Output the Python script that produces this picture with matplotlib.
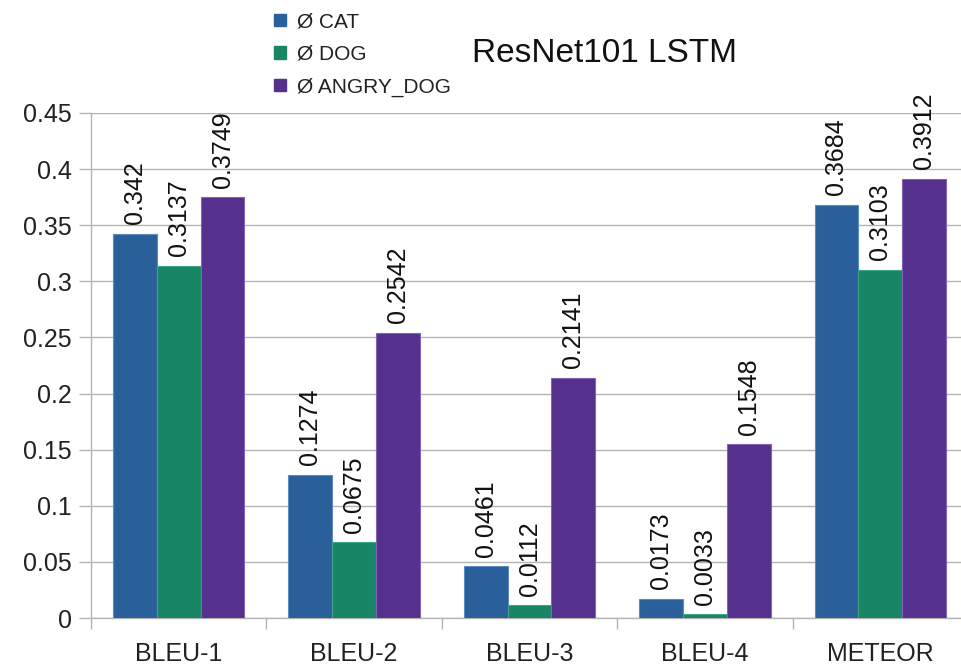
import numpy as np
import matplotlib
matplotlib.use("Agg")
import matplotlib.pyplot as plt
from matplotlib.patches import Patch

plt.rcParams['font.family'] = ['Liberation Sans', 'DejaVu Sans']

# scores per metric
metrics = ["BLEU-1", "BLEU-2", "BLEU-3", "BLEU-4", "METEOR"]
cat = [0.342, 0.1274, 0.0461, 0.0173, 0.3684]
dog = [0.3137, 0.0675, 0.0112, 0.0033, 0.3103]
angry_dog = [0.3749, 0.2542, 0.2141, 0.1548, 0.3912]
series_names = ["Ø CAT", "Ø DOG", "Ø ANGRY_DOG"]
colors = ["#2a6099", "#178566", "#55308d"]
edges = ["#5b8cc4", "#3fa588", "#8464b8"]

W, H = 961, 666
fig = plt.figure(figsize=(W / 100, H / 100), dpi=100)
ax = fig.add_axes([91 / W, 48 / H, (968 - 91) / W, (618 - 113) / H])

x = np.arange(len(metrics))
bw = 0.25
grey = "#b3b3b3"

for i, (vals, c, ec) in enumerate(zip([cat, dog, angry_dog], colors, edges)):
    pos = x + (i - 1) * bw
    ax.bar(pos, vals, width=bw, color=c, edgecolor=ec, linewidth=0.8, zorder=3)
    for px, v in zip(pos, vals):
        ax.annotate(f"{v:g}", (px, v), xytext=(0, 7), textcoords="offset points",
                    rotation=90, ha="center", va="bottom", fontsize=18,
                    color="#111111", zorder=4)

ax.set_xlim(-0.5, len(metrics) - 0.5)
ax.set_ylim(0, 0.45)
yt = np.arange(0, 0.451, 0.05)
ax.set_yticks(yt)
ax.set_yticklabels([f"{v:g}" for v in np.round(yt, 2)], fontsize=18, color="#222222")
ax.tick_params(axis="y", length=9, width=1, color=grey, pad=5)

ax.set_xticks(x)
ax.set_xticklabels(metrics, fontsize=18, color="#222222")
ax.set_xticks(np.arange(-0.5, len(metrics), 1), minor=True)
ax.tick_params(axis="x", which="major", length=0, pad=17)
ax.tick_params(axis="x", which="minor", length=8, width=1, color=grey)

ax.yaxis.grid(True, color=grey, linewidth=1, zorder=0)
ax.set_axisbelow(True)
for s in ["top", "right"]:
    ax.spines[s].set_visible(False)
for s in ["left", "bottom"]:
    ax.spines[s].set_color(grey)
    ax.spines[s].set_linewidth(1)

handles = [Patch(facecolor=c, edgecolor=c) for c in colors]
fig.legend(handles, series_names, loc="upper left",
           bbox_to_anchor=(266 / W, 1 - 4 / H), frameon=False, fontsize=15,
           handlelength=0.55, handleheight=0.55, handletextpad=0.55,
           labelspacing=0.65, borderaxespad=0, labelcolor="#222222")

fig.text(604 / W, 1 - 53 / H, "ResNet101 LSTM", ha="center", va="center",
         fontsize=24, color="#111111")

fig.savefig("out.png", dpi=100)
